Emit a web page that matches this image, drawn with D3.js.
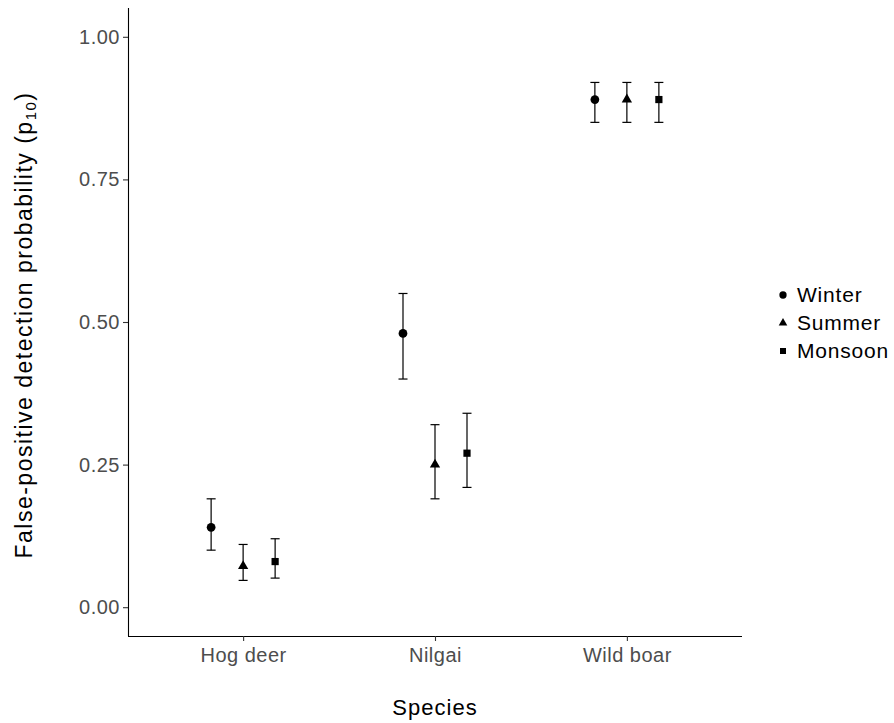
<!DOCTYPE html>
<html>
<head>
<meta charset="utf-8">
<script src="https://cdn.jsdelivr.net/npm/d3@7"></script>
<style>
  body { margin: 0; background: #fff; }
  text { font-family: "Liberation Sans", Arial, sans-serif; }
</style>
</head>
<body>
<svg width="894" height="723"></svg>
<script>
const species = ["Hog deer", "Nilgai", "Wild boar"];
const seasons = ["Winter", "Summer", "Monsoon"];
// estimate, lower, upper per species, one array per season
const winter = [[0.14, 0.10, 0.19], [0.48, 0.40, 0.55], [0.89, 0.85, 0.92]];
const summer = [[0.072, 0.047, 0.11], [0.25, 0.19, 0.32], [0.89, 0.85, 0.92]];
const monsoon = [[0.08, 0.051, 0.12], [0.27, 0.21, 0.34], [0.89, 0.85, 0.92]];
const yTicks = [0, 0.25, 0.5, 0.75, 1];

const seriesBySeason = { Winter: winter, Summer: summer, Monsoon: monsoon };
const rows = [];
seasons.forEach(s => {
    seriesBySeason[s].forEach((v, i) => {
        rows.push({ species: species[i], season: s, est: v[0], lo: v[1], hi: v[2] });
    });
});

const svg = d3.select('svg');
const pLeft = 128, pRight = 742, pTop = 8, pBottom = 636;

const y = d3.scaleLinear()
    .domain([-0.0505, 1.0505])
    .range([pBottom, pTop]);

// discrete x with ggplot-like 0.6 expansion
const x = d3.scalePoint()
    .domain(species)
    .range([pLeft, pRight])
    .padding(0.6);

const dodge = d3.scalePoint()
    .domain(seasons)
    .range([-32, 32]);

const shapes = d3.scaleOrdinal()
    .domain(seasons)
    .range([d3.symbolCircle, d3.symbolTriangle, d3.symbolSquare]);
const sizes = { Winter: 60, Summer: 46, Monsoon: 52 };

// axes
const yAxis = svg.append('g')
    .attr('transform', 'translate(' + pLeft + ',0)')
    .call(d3.axisLeft(y).tickValues(yTicks).tickFormat(d3.format('.2f')).tickSize(5).tickPadding(3));
const xAxis = svg.append('g')
    .attr('transform', 'translate(0,' + pBottom + ')')
    .call(d3.axisBottom(x).tickSize(5).tickPadding(3));

[yAxis, xAxis].forEach(a => {
    a.select('.domain').attr('stroke', '#000').attr('stroke-width', 1.1);
    a.selectAll('.tick line').attr('stroke', '#333').attr('stroke-width', 1.1);
    a.selectAll('.tick text').attr('fill', '#4d4d4d')
        .style('font-size', '20px').style('letter-spacing', '0.5px');
});
yAxis.select('.domain').attr('d', 'M0.5,' + pTop + 'V' + pBottom);
xAxis.select('.domain').attr('d', 'M' + pLeft + ',0.5H' + pRight);
xAxis.selectAll('.tick text').attr('dy', '0.9em');

// error bars
const g = svg.append('g');
const bars = g.selectAll('.bar')
    .data(rows)
    .enter()
    .append('g')
    .attr('transform', d => 'translate(' + (x(d.species) + dodge(d.season)) + ',0)');

bars.append('line')
    .attr('y1', d => y(d.lo)).attr('y2', d => y(d.hi))
    .attr('stroke', '#000').attr('stroke-width', 1.2);
bars.append('line')
    .attr('x1', -4.5).attr('x2', 4.5)
    .attr('y1', d => y(d.lo)).attr('y2', d => y(d.lo))
    .attr('stroke', '#000').attr('stroke-width', 1.2);
bars.append('line')
    .attr('x1', -4.5).attr('x2', 4.5)
    .attr('y1', d => y(d.hi)).attr('y2', d => y(d.hi))
    .attr('stroke', '#000').attr('stroke-width', 1.2);
bars.append('path')
    .attr('d', d => d3.symbol().type(shapes(d.season)).size(sizes[d.season])())
    .attr('transform', d => 'translate(0,' + y(d.est) + ')')
    .attr('fill', '#000');

// axis titles
svg.append('text')
    .attr('x', (pLeft + pRight) / 2)
    .attr('y', 715)
    .attr('text-anchor', 'middle')
    .style('font-size', '22px')
    .style('letter-spacing', '1px')
    .text('Species');

const yt = svg.append('text')
    .attr('transform', 'translate(32,325) rotate(-90)')
    .attr('text-anchor', 'middle')
    .style('font-size', '23px')
    .style('letter-spacing', '1.5px');
yt.append('tspan').text('False-positive detection probability (p');
yt.append('tspan').text('10').style('font-size', '15px').attr('dy', 4);
yt.append('tspan').text(')').attr('dy', -4);

// legend
const legend = svg.append('g')
    .selectAll('g')
    .data(seasons)
    .enter()
    .append('g')
    .attr('transform', (d, i) => 'translate(783,' + (295 + i * 28) + ')');
legend.append('path')
    .attr('d', d => d3.symbol().type(shapes(d)).size(sizes[d] * 0.7)())
    .attr('fill', '#000');
legend.append('text')
    .attr('x', 14)
    .attr('dy', '0.35em')
    .style('font-size', '21px')
    .style('letter-spacing', '0.8px')
    .text(d => d);
</script>
</body>
</html>
